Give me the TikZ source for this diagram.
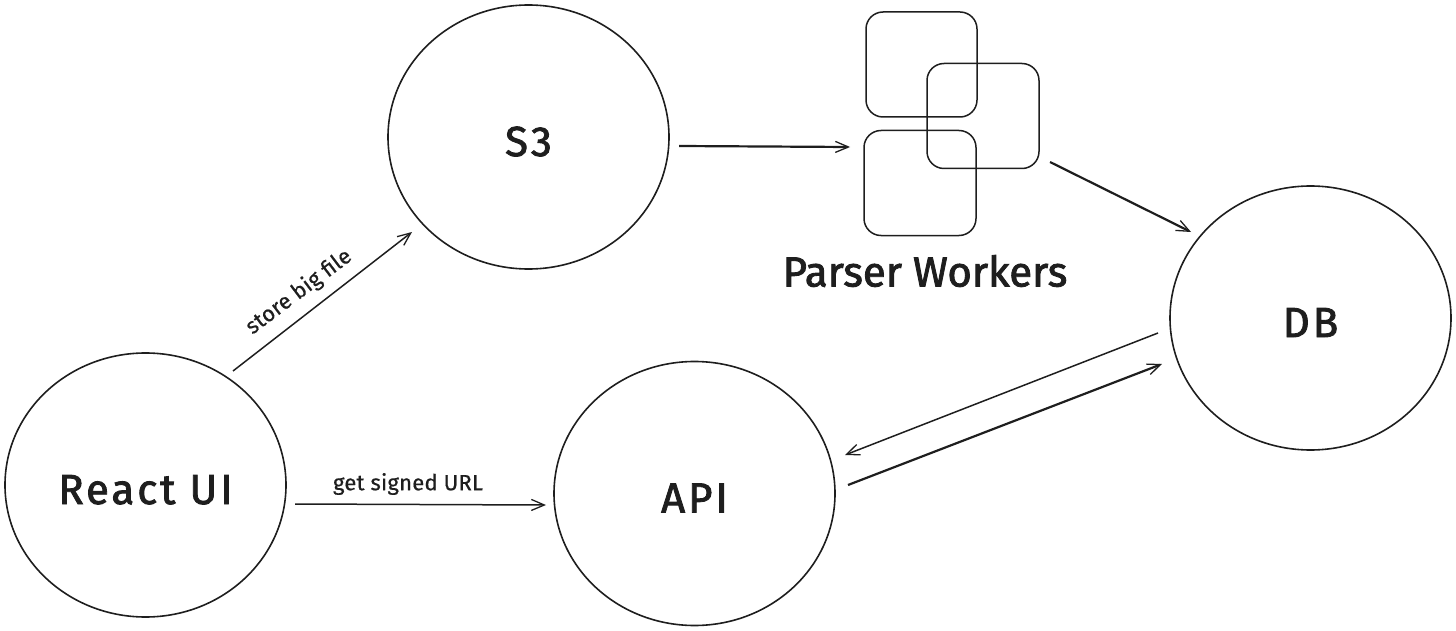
\documentclass[tikz,border=0pt]{standalone}
\usepackage{fontspec}
\setmainfont{Fira Sans}
\newfontfamily\handbig[LetterSpace=7,FakeBold=2]{Fira Sans}
\newfontfamily\handwide[FakeBold=2]{Fira Sans}
\newfontfamily\handsmall[LetterSpace=1,FakeBold=0.6]{Fira Sans}
\usetikzlibrary{arrows.meta,shapes.geometric}
\definecolor{ink}{HTML}{1E1E1E}
\tikzset{x=1pt,y=-1pt,
 circ/.style={ellipse,draw=ink,line width=1.6pt,minimum width=281pt,minimum height=264pt,inner sep=0pt,font=\handbig\fontsize{42}{46}\selectfont,text=ink,text height=38pt,text depth=0pt},
 worker/.style={draw=ink,line width=1.5pt,rounded corners=17pt,inner sep=0pt,minimum width=#1},
 conn/.style={draw=ink,line width=1.5pt,-{Straight Barb[length=13pt,width=11pt,line width=1.3pt]}},
 thick conn/.style={conn,line width=2.2pt},
 lab/.style={font=\handsmall\fontsize{22}{26}\selectfont,text=ink,inner sep=0pt},
}
\begin{document}
\begin{tikzpicture}
\useasboundingbox (0,0) rectangle (1456,631);
\node[circ] (s3) at (528.5,137) {S3};
\node[circ] (ui) at (145.5,485) {React UI};
\node[circ] (api) at (694.5,493.5) {API};
\node[circ] (db) at (1310.5,318) {DB};
\node[worker=111pt,minimum height=105pt] (w1) at (921.5,64.5) {};
\node[worker=112pt,minimum height=105pt] (w2) at (983,116) {};
\node[worker=112pt,minimum height=105pt] (w3) at (920,183) {};
\node[font=\handwide\fontsize{42}{46}\selectfont,text=ink,inner sep=0pt] (pw) at (925,271) {Parser Workers};
\coordinate (a1) at (233,371); \coordinate (a2) at (412,232);
\coordinate (b1) at (295,504); \coordinate (b2) at (546,505);
\coordinate (c1) at (679,146); \coordinate (c2) at (850,147);
\coordinate (d1) at (1050,162); \coordinate (d2) at (1191,232);
\coordinate (e1) at (1158,333); \coordinate (e2) at (845,455);
\coordinate (f1) at (848,485); \coordinate (f2) at (1162,364);
\draw[conn] (a1) -- (a2);
\draw[conn] (b1) -- (b2);
\draw[thick conn] (c1) -- (c2);
\draw[thick conn] (d1) -- (d2);
\draw[conn] (e1) -- (e2);
\draw[thick conn] (f1) -- (f2);
\node[lab,rotate=37] (l1) at (299,292) {store big file};
\node[lab] (l2) at (408,484) {get signed URL};
\end{tikzpicture}
\end{document}
